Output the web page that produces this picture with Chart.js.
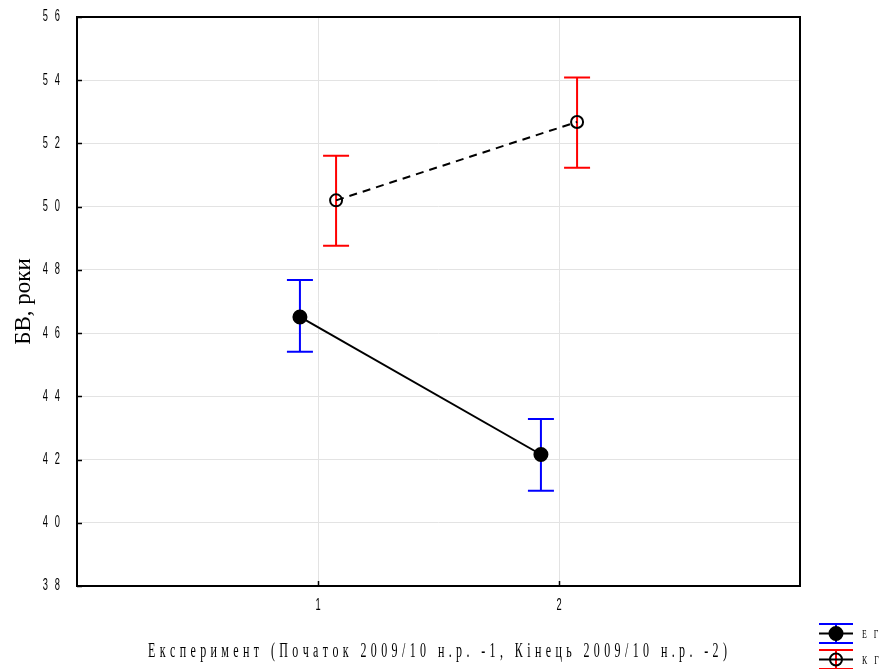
<!DOCTYPE html>
<html>
<head>
<meta charset="utf-8">
<script src="https://cdn.jsdelivr.net/npm/chart.js@4/dist/chart.umd.min.js"></script>
<style>
  html, body { margin: 0; padding: 0; background: #fff; }
  #wrap { width: 881px; height: 669px; }
</style>
</head>
<body>
<div id="wrap"><canvas id="chart" width="881" height="669"></canvas></div>
<script>
// data
const groups = [1, 2];
const groupNames = ["ЕГ", "КГ"];
const egMean = [46.51, 42.16];
const egLow = [45.41, 41.01];
const egHigh = [47.68, 43.28];
const kgMean = [50.20, 52.68];
const kgLow = [48.76, 51.23];
const kgHigh = [51.61, 54.09];
const yTicks = [38, 40, 42, 44, 46, 48, 50, 52, 54, 56];
const xTitle = "Експеримент (Початок 2009/10 н.р. -1, Кінець 2009/10 н.р. -2)";
const yTitle = "БВ, роки";

// horizontal dodge of the two groups
const EG_SHIFT = -0.075;
const KG_SHIFT = 0.075;

const SANS = "'Liberation Sans', Arial, sans-serif";
const SERIF = "'Liberation Serif', 'Times New Roman', serif";

const egPoints = groups.map((g, i) => ({ x: g + EG_SHIFT, y: egMean[i], lo: egLow[i], hi: egHigh[i] }));
const kgPoints = groups.map((g, i) => ({ x: g + KG_SHIFT, y: kgMean[i], lo: kgLow[i], hi: kgHigh[i] }));

// draw text squeezed horizontally, one glyph every `pitch` px (or spread to `width`)
function drawNarrow(ctx, text, x, y, font, sx, opts) {
  const chars = Array.from(text);
  ctx.save();
  ctx.font = font;
  ctx.textBaseline = "middle";
  ctx.textAlign = "left";
  const widths = chars.map(c => ctx.measureText(c).width * sx);
  const natural = widths.reduce((a, b) => a + b, 0);
  let gap = opts.gap || 0;
  if (opts.width) gap = (opts.width - natural) / (chars.length - 1);
  const total = natural + gap * (chars.length - 1);
  let cx = x;
  if (opts.align === "center") cx = x - total / 2;
  if (opts.align === "right") cx = x - total;
  chars.forEach((c, i) => {
    ctx.save();
    ctx.translate(cx, y);
    ctx.scale(sx, 1);
    ctx.fillText(c, 0, 0);
    ctx.restore();
    cx += widths[i] + gap;
  });
  ctx.restore();
}

const errorBars = {
  id: "errorBars",
  beforeDatasetsDraw(chart) {
    const { ctx, scales: { x, y } } = chart;
    chart.data.datasets.forEach(ds => {
      ctx.save();
      ctx.strokeStyle = ds.errColor;
      ctx.lineWidth = 2;
      ds.data.forEach(p => {
        const px = x.getPixelForValue(p.x);
        const top = y.getPixelForValue(p.hi);
        const bot = y.getPixelForValue(p.lo);
        ctx.beginPath();
        ctx.moveTo(px, top); ctx.lineTo(px, bot);
        ctx.moveTo(px - 13, top); ctx.lineTo(px + 13, top);
        ctx.moveTo(px - 13, bot); ctx.lineTo(px + 13, bot);
        ctx.stroke();
      });
      ctx.restore();
    });
  },
  afterDraw(chart) {
    const { ctx, chartArea: a, scales: { x, y } } = chart;
    ctx.save();
    ctx.strokeStyle = "#000";
    ctx.fillStyle = "#000";
    ctx.lineWidth = 2;
    ctx.strokeRect(a.left, a.top, a.right - a.left, a.bottom - a.top);

    // short ticks pointing into the plot
    ctx.lineWidth = 1.5;
    ctx.beginPath();
    yTicks.forEach(v => {
      const py = Math.round(y.getPixelForValue(v)) + 0.5;
      ctx.moveTo(a.left, py); ctx.lineTo(a.left + 5, py);
    });
    groups.forEach(v => {
      const px = Math.round(x.getPixelForValue(v)) + 0.5;
      ctx.moveTo(px, a.bottom); ctx.lineTo(px, a.bottom - 5);
    });
    ctx.stroke();

    // tick labels, narrow and spaced
    yTicks.forEach(v => {
      drawNarrow(ctx, String(v), 60, y.getPixelForValue(v), "16px " + SANS, 0.58, { gap: 7, align: "right" });
    });
    groups.forEach(v => {
      drawNarrow(ctx, String(v), x.getPixelForValue(v), 606, "16px " + SANS, 0.58, { align: "center" });
    });

    // axis titles
    ctx.save();
    ctx.font = "23px " + SERIF;
    ctx.translate(24, (a.top + a.bottom) / 2);
    ctx.rotate(-Math.PI / 2);
    ctx.textAlign = "center";
    ctx.textBaseline = "middle";
    ctx.fillText(yTitle, 0, 0);
    ctx.restore();

    drawNarrow(ctx, xTitle, 437.5, 652, "20px " + SERIF, 0.6, { width: 579, align: "center" });

    // legend
    const items = [
      { name: groupNames[0], color: "#0000ff", filled: true, cy: 633.5 },
      { name: groupNames[1], color: "#ff0000", filled: false, cy: 659.5 }
    ];
    const cx = 836;
    items.forEach(it => {
      ctx.strokeStyle = it.color;
      ctx.lineWidth = 2;
      ctx.beginPath();
      ctx.moveTo(cx - 17, it.cy - 9.5); ctx.lineTo(cx + 17, it.cy - 9.5);
      ctx.moveTo(cx - 17, it.cy + 9.5); ctx.lineTo(cx + 17, it.cy + 9.5);
      ctx.moveTo(cx, it.cy - 9.5); ctx.lineTo(cx, it.cy + 9.5);
      ctx.stroke();
      ctx.strokeStyle = "#000";
      ctx.beginPath();
      ctx.moveTo(cx - 17, it.cy); ctx.lineTo(cx + 17, it.cy);
      ctx.stroke();
      ctx.beginPath();
      ctx.arc(cx, it.cy, it.filled ? 6.5 : 6, 0, Math.PI * 2);
      if (it.filled) { ctx.fillStyle = "#000"; ctx.fill(); }
      ctx.stroke();
      ctx.fillStyle = "#000";
      drawNarrow(ctx, it.name, 862, it.cy + 1, "13px " + SERIF, 0.6, { gap: 7, align: "left" });
    });
    ctx.restore();
  }
};

new Chart(document.getElementById("chart").getContext("2d"), {
  type: "scatter",
  data: {
    datasets: [
      {
        label: groupNames[0],
        data: egPoints,
        showLine: true,
        borderColor: "#000",
        borderWidth: 2,
        pointRadius: 6.5,
        pointBackgroundColor: "#000",
        pointBorderColor: "#000",
        errColor: "#0000ff"
      },
      {
        label: groupNames[1],
        data: kgPoints,
        showLine: true,
        borderColor: "#000",
        borderWidth: 2,
        borderDash: [8, 6],
        pointRadius: 6,
        pointBorderWidth: 2,
        pointBackgroundColor: "rgba(255,255,255,0)",
        pointBorderColor: "#000",
        errColor: "#ff0000"
      }
    ]
  },
  options: {
    responsive: false,
    animation: false,
    layout: { padding: { top: 17, right: 81, left: 0, bottom: 0 } },
    plugins: { legend: { display: false }, tooltip: { enabled: false } },
    scales: {
      x: {
        type: "linear",
        min: 0,
        max: 3,
        afterFit: s => { s.height = 83; },
        afterBuildTicks: s => { s.ticks = groups.map(v => ({ value: v })); },
        grid: { color: "#e3e3e3", lineWidth: 1, drawTicks: false },
        border: { display: false },
        ticks: { display: false }
      },
      y: {
        min: 38,
        max: 56,
        afterFit: s => { s.width = 77; },
        afterBuildTicks: s => { s.ticks = yTicks.map(v => ({ value: v })); },
        grid: { color: "#e3e3e3", lineWidth: 1, drawTicks: false },
        border: { display: false },
        ticks: { display: false }
      }
    }
  },
  plugins: [errorBars]
});
</script>
</body>
</html>
